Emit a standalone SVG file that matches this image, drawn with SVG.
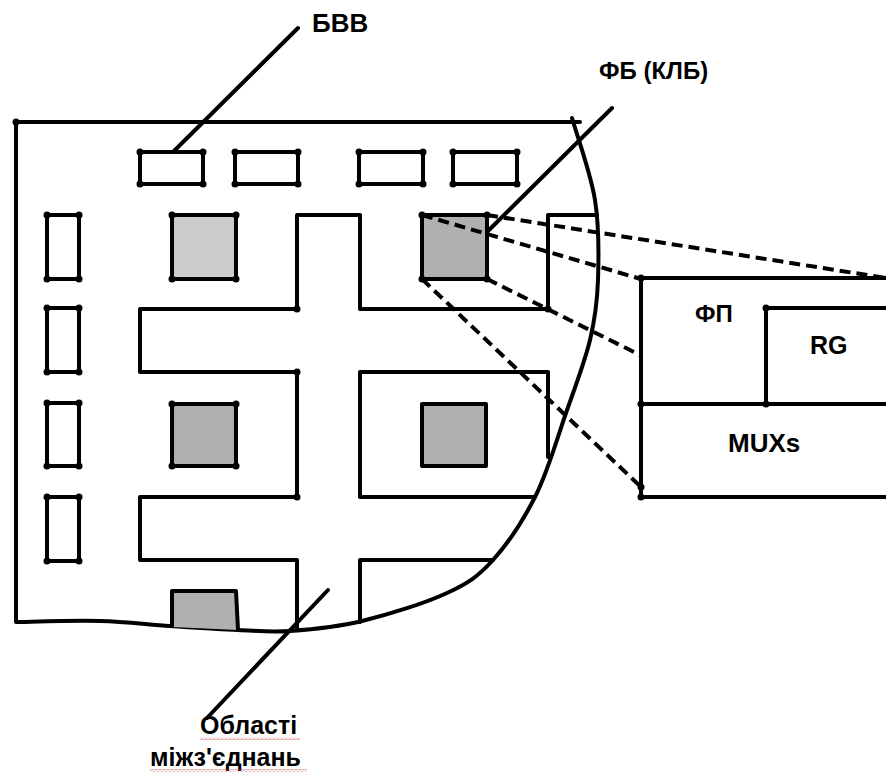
<svg xmlns="http://www.w3.org/2000/svg" width="886" height="774" viewBox="0 0 886 774">
<style>
.ln{fill:none;stroke:#000;stroke-width:4;stroke-linecap:round;stroke-linejoin:round}
.lf{stroke:#000;stroke-width:4;stroke-linejoin:round}
.dash{fill:none;stroke:#000;stroke-width:4;stroke-dasharray:11 6}
.dot{fill:#000}
.lbl{font-family:"Liberation Sans",Arial,sans-serif;font-weight:bold;fill:#000}
.g1{fill:#cbcbcb}
.g2{fill:#b0b0b0}
</style>
<defs>
<pattern id="wavy" width="4" height="3" patternUnits="userSpaceOnUse">
<path d="M0,2.5 L2,0.5 L4,2.5" fill="none" stroke="#d04040" stroke-width="0.8"/>
</pattern>
<g id="d4">
</g>
</defs>
<rect width="886" height="774" fill="#fff"/>

<g id="chip">
<path class="ln" d="M580,122 L16,122 L16,622 C30,621.8 74.3,620.3 100,621 C125.7,621.7 147,624.5 170,626 C193,627.5 218,629.2 238,630 C258,630.8 269.3,632.5 290,631 C310.7,629.5 335.8,627.3 362,621 C388.2,614.7 425.2,603.2 447,593 C468.8,582.8 478.2,576.3 493,560 C507.8,543.7 523.8,519.5 536,495 C548.2,470.5 557,438.8 566,413 C575,387.2 584.7,362.2 590,340 C595.3,317.8 597.2,303.3 598,280 C598.8,256.7 599.3,227 595,200 C590.7,173 575.8,131.7 572,118"/>
<circle class="dot" cx="16" cy="122" r="3.5"/>
</g>

<g id="interconnect">
<path class="ln" d="M297,628 L297,560 L140,560 L140,497 L297,497 L297,372 L140,372 L140,309 L297,309 L297,215 L360,215 L360,309 L548,309 L548,215 L597,215"/>
<path class="ln" d="M360,622 L360,560 L493,560"/>
<path class="ln" d="M535,497 L360,497 L360,372 L548,372 L548,457"/>
<circle class="dot" cx="297" cy="309" r="3.5"/>
<circle class="dot" cx="297" cy="372" r="3.5"/>
<circle class="dot" cx="297" cy="497" r="3.5"/>
<circle class="dot" cx="548" cy="309" r="3.5"/>
</g>

<g id="io-blocks">
<rect class="ln" x="140" y="152" width="63" height="32"/>
<rect class="ln" x="235" y="152" width="63" height="32"/>
<rect class="ln" x="359" y="152" width="64" height="32"/>
<rect class="ln" x="453" y="152" width="64" height="32"/>
<rect class="ln" x="47" y="215" width="32" height="64"/>
<rect class="ln" x="47" y="308" width="32" height="64"/>
<rect class="ln" x="47" y="403" width="32" height="63"/>
<rect class="ln" x="47" y="497" width="32" height="64"/>
<g class="dot">
<circle cx="140" cy="152" r="3.5"/><circle cx="203" cy="152" r="3.5"/><circle cx="140" cy="184" r="3.5"/><circle cx="203" cy="184" r="3.5"/>
<circle cx="235" cy="152" r="3.5"/><circle cx="298" cy="152" r="3.5"/><circle cx="235" cy="184" r="3.5"/><circle cx="298" cy="184" r="3.5"/>
<circle cx="359" cy="152" r="3.5"/><circle cx="423" cy="152" r="3.5"/><circle cx="359" cy="184" r="3.5"/><circle cx="423" cy="184" r="3.5"/>
<circle cx="453" cy="152" r="3.5"/><circle cx="517" cy="152" r="3.5"/><circle cx="453" cy="184" r="3.5"/><circle cx="517" cy="184" r="3.5"/>
<circle cx="47" cy="215" r="3.5"/><circle cx="79" cy="215" r="3.5"/><circle cx="47" cy="279" r="3.5"/><circle cx="79" cy="279" r="3.5"/>
<circle cx="47" cy="308" r="3.5"/><circle cx="79" cy="308" r="3.5"/><circle cx="47" cy="372" r="3.5"/><circle cx="79" cy="372" r="3.5"/>
<circle cx="47" cy="403" r="3.5"/><circle cx="79" cy="403" r="3.5"/><circle cx="47" cy="466" r="3.5"/><circle cx="79" cy="466" r="3.5"/>
<circle cx="47" cy="497" r="3.5"/><circle cx="79" cy="497" r="3.5"/><circle cx="47" cy="561" r="3.5"/><circle cx="79" cy="561" r="3.5"/>
</g>
</g>

<g id="logic-blocks">
<rect class="lf g1" x="172" y="215" width="64" height="64"/>
<rect class="lf g2" x="172" y="404" width="64" height="62"/>
<rect class="lf g2" x="422" y="404" width="64" height="62"/>
<path class="lf g2" d="M172,627 L172,591 L236,591 L238,630"/>
<g class="dot">
<circle cx="172" cy="215" r="3.5"/><circle cx="236" cy="215" r="3.5"/><circle cx="172" cy="279" r="3.5"/><circle cx="236" cy="279" r="3.5"/>
<circle cx="172" cy="404" r="3.5"/><circle cx="236" cy="404" r="3.5"/><circle cx="172" cy="466" r="3.5"/><circle cx="236" cy="466" r="3.5"/>
</g>
</g>

<g id="fb">
<rect class="lf g2" x="422" y="215" width="65" height="64"/>
<g class="dot">
<circle cx="422" cy="215" r="3.5"/><circle cx="487" cy="215" r="3.5"/><circle cx="422" cy="279" r="3.5"/><circle cx="487" cy="279" r="3.5"/>
</g>
</g>

<g id="fb-detail">
<path class="ln" d="M886,278 L641,278 L641,497 L886,497"/>
<path class="ln" d="M641,404 L886,404"/>
<path class="ln" d="M766,404 L766,308 L886,308"/>
<g class="dot">
<circle cx="641" cy="278" r="3.5"/><circle cx="766" cy="308" r="3.5"/><circle cx="766" cy="404" r="3.5"/><circle cx="641" cy="404" r="3.5"/><circle cx="641" cy="487" r="3.5"/><circle cx="641" cy="497" r="3.5"/>
</g>
<text class="lbl" x="695" y="322" font-size="24">ФП</text>
<text class="lbl" x="810" y="354" font-size="25">RG</text>
<text class="lbl" x="728" y="452" font-size="26">MUXs</text>
</g>

<g id="connectors">
<path class="dash" d="M487,215 L886,278"/>
<path class="dash" d="M422,215 L641,279"/>
<path class="dash" d="M487,279 L640,355"/>
<path class="dash" d="M422,279 L641,487"/>
<path class="ln" d="M298,28 L173,152"/>
<path class="ln" d="M612,108 L487,232"/>
<path class="ln" d="M207,718 L328,590"/>
</g>

<g id="labels">
<text class="lbl" x="312" y="32" font-size="26">БВВ</text>
<text class="lbl" x="599" y="79" font-size="24">ФБ (КЛБ)</text>
<text class="lbl" x="200" y="734" font-size="25">Області</text>
<text class="lbl" x="150" y="766" font-size="25">міжз'єднань</text>
<rect x="200" y="737" width="100" height="3" fill="url(#wavy)"/>
<rect x="150" y="769" width="157" height="3" fill="url(#wavy)"/>
</g>
</svg>
